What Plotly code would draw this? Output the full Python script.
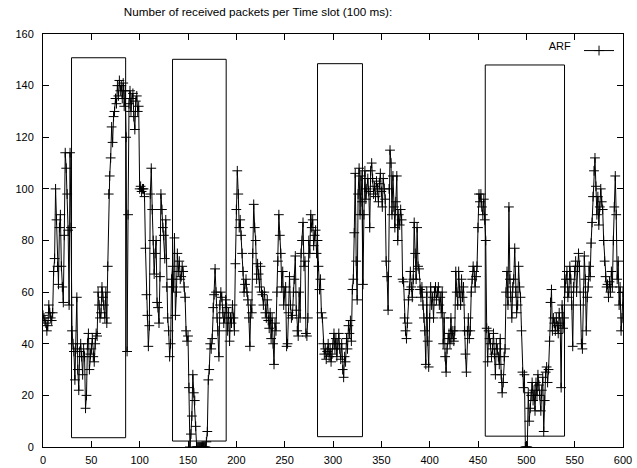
import plotly.graph_objects as go

title_text = "Number of received packets per Time slot (100 ms):"
series_name = "ARF"

packets = [
    51, 50, 49, 48, 45, 47, 55, 52, 50, 49,
    52, 68, 73, 100, 88, 70, 63, 85, 90, 70,
    62, 56, 82, 114, 108, 98, 84, 55, 114, 85,
    45, 40, 37, 26, 38, 58, 30, 22, 37, 40,
    35, 28, 38, 35, 15, 20, 40, 44, 30, 36,
    38, 42, 35, 33, 40, 44, 43, 60, 55, 50,
    52, 62, 58, 55, 50, 60, 48, 70, 98, 105,
    112, 124, 118, 128, 130, 135, 133, 140, 136, 142,
    138, 140, 135, 141, 132, 138, 120, 37, 90, 133,
    138, 130, 135, 137, 128, 123, 134, 136, 130, 132,
    100, 101, 99, 100, 100, 97, 77, 59, 51, 39,
    47, 98, 108, 92, 80, 67, 75, 80, 56, 54,
    48, 66, 98, 92, 85, 82, 73, 88, 62, 50,
    45, 35, 40, 65, 70, 62, 81, 51, 60, 75,
    68, 72, 65, 66, 70, 68, 62, 58, 45, 41,
    43, 23, 0, 5, 12, 28, 21, 18, 8, 0,
    0, 0, 0, 0, 0, 0, 0, 0, 0, 2,
    6, 26, 30, 40, 38, 42, 54, 59, 69, 60,
    50, 45, 35, 55, 60, 58, 52, 48, 50, 57,
    54, 45, 52, 41, 50, 48, 55, 50, 45, 71,
    92, 107, 98, 85, 88, 82, 75, 68, 60, 63,
    65, 60, 57, 50, 39, 55, 52, 75, 94, 85,
    80, 65, 71, 67, 62, 70, 60, 59, 55, 60,
    52, 50, 57, 49, 46, 52, 42, 50, 40, 32,
    48, 45, 60, 72, 90, 82, 75, 62, 68, 55,
    60, 62, 39, 40, 52, 66, 55, 50, 51, 60,
    65, 74, 53, 45, 43, 60, 50, 75, 80, 87,
    70, 72, 44, 43, 50, 80, 75, 90, 85, 88,
    78, 82, 84, 75, 80, 70, 61, 65, 52, 50,
    40, 36, 38, 34, 37, 40, 35, 38, 33, 36,
    40, 44, 38, 42, 35, 40, 44, 38, 34, 40,
    30, 27, 35, 33, 42, 38, 47, 44, 49, 41,
    61, 65, 83, 106, 72, 57, 98, 108, 90, 105,
    95, 63, 90, 107, 96, 100, 104, 99, 85, 107,
    110, 104, 98, 101, 97, 103, 100, 95, 102, 106,
    99, 93, 104, 100, 96, 72, 66, 53, 100, 115,
    110, 90, 105, 93, 85, 95, 105, 80, 90, 86,
    92, 88, 65, 64, 50, 45, 42, 48, 57, 61,
    68, 62, 58, 65, 87, 75, 65, 85, 70, 69,
    61, 58, 62, 55, 50, 45, 32, 60, 41, 31,
    50, 62, 55, 58, 50, 60, 62, 57, 60, 62,
    55, 58, 52, 60, 40, 50, 35, 29, 38, 42,
    44, 40, 50, 42, 45, 41, 45, 68, 60, 55,
    68, 60, 55, 65, 58, 62, 45, 36, 29, 45,
    50, 42, 45, 60, 65, 70, 68, 62, 66, 70,
    85, 98, 95, 98, 93, 90, 96, 88, 80, 46,
    33, 45, 42, 40, 35, 38, 44, 36, 28, 40,
    38, 35, 32, 42, 28, 21, 25, 35, 38, 60,
    68, 55, 93, 65, 58, 50, 62, 65, 77, 60,
    52, 55, 70, 62, 58, 45, 29, 23, 28, 0,
    0, 0, 21, 10, 15, 20, 25, 18, 22, 14,
    25, 20, 28, 24, 20, 14, 22, 27, 6, 18,
    29, 31, 25, 30, 41, 56, 61, 45, 50, 48,
    45, 50, 47, 44, 52, 48, 23, 55, 46, 50,
    62, 65, 68, 58, 60, 70, 65, 55, 39, 62,
    68, 72, 60, 70, 75, 70, 55, 40, 38, 60,
    74, 65, 45, 58, 62, 70, 66, 79, 87, 97,
    107, 112, 101, 90, 97, 86, 93, 100, 95, 92,
    80, 72, 66, 62, 63, 58, 64, 60, 68, 62,
    80, 93, 105, 90, 65, 72, 55, 62, 45, 50,
    60,
]
time_slot = list(range(len(packets)))

# highlighted windows: (x start, x end, y bottom, y top)
box_x0 = [29.5, 134, 284, 457.5]
box_x1 = [85.5, 189.5, 330.5, 539.5]
box_y0 = [3.6, 2.3, 4.0, 4.2]
box_y1 = [150.8, 150.2, 148.5, 148.0]

x_ticks = list(range(0, 601, 50))
y_ticks = list(range(0, 161, 20))

font_family = "Liberation Sans, Arial, sans-serif"

fig = go.Figure()
fig.add_trace(go.Scatter(
    x=time_slot, y=packets, mode="lines+markers", name="",
    line=dict(color="black", width=1),
    marker=dict(symbol="cross-thin", size=7, line=dict(color="black", width=1), color="black"),
    showlegend=True,
))

for a, b, c, d in zip(box_x0, box_x1, box_y0, box_y1):
    fig.add_shape(type="rect", xref="x", yref="y", x0=a, x1=b, y0=c, y1=d,
                  line=dict(color="black", width=1), fillcolor="rgba(0,0,0,0)", layer="above")

axis_common = dict(
    showline=True, linecolor="black", linewidth=1, mirror="ticks",
    ticks="inside", ticklen=6, tickwidth=1, tickcolor="black",
    showgrid=False, zeroline=False, automargin=False,
    tickfont=dict(family=font_family, size=11, color="black"),
)

fig.update_layout(
    width=637, height=468, autosize=False,
    margin=dict(l=43, r=14, t=34, b=21),
    paper_bgcolor="white", plot_bgcolor="white",
    font=dict(family=font_family, size=11, color="black"),
    title=dict(text=title_text, x=258 / 637, xref="container", xanchor="center",
               y=1 - 12 / 468, yref="container", yanchor="middle",
               font=dict(family=font_family, size=11.7, color="black")),
    xaxis=dict(range=[0, 600], tickvals=x_ticks, ticklabelstandoff=3, **axis_common),
    yaxis=dict(range=[0, 160], tickvals=y_ticks, ticklabelstandoff=6, **axis_common),
    legend=dict(x=1.003, y=0.995, xanchor="right", yanchor="top",
                bgcolor="rgba(0,0,0,0)", borderwidth=0, valign="middle",
                title=dict(text=series_name, side="left",
                           font=dict(family=font_family, size=11, color="black")),
                font=dict(family=font_family, size=11, color="black"),
                itemwidth=30),
)

fig.write_html("out.html")
